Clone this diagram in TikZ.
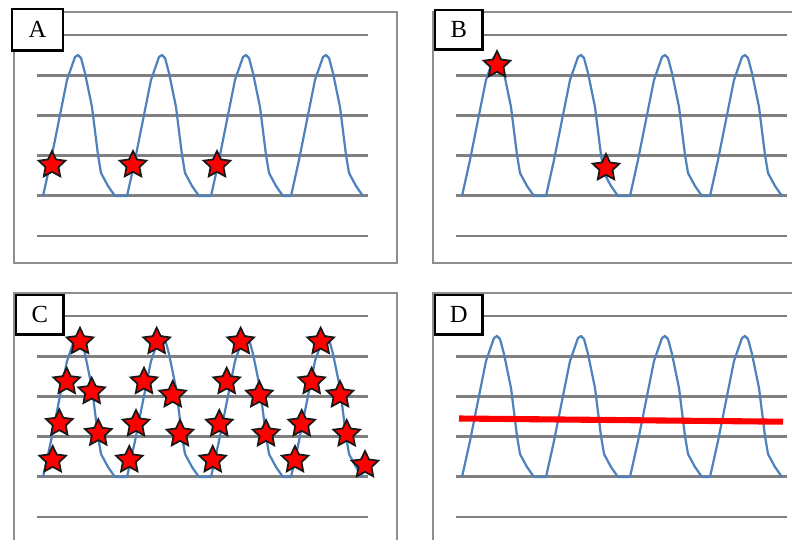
\documentclass[tikz,border=0pt]{standalone}
\usepackage{fontspec}
\setmainfont{Liberation Serif}
\usetikzlibrary{shapes.geometric}
\definecolor{pnGrid}{HTML}{808080}
\definecolor{pnFrame}{HTML}{8E8E8E}
\definecolor{pnWave}{HTML}{4F81BD}
\definecolor{pnHit}{HTML}{FF0000}
\tikzset{
  panelframe/.style={draw=pnFrame, line width=2.2pt},
  gridline/.style={draw=pnGrid, line width=2.3pt},
  wave/.style={draw=pnWave, line width=1.9pt, line join=round},
  hit/.style={
    star, star points=5, star point ratio=2.05, fill=pnHit, draw=black!90,
    line width=1.5pt, inner sep=0pt, minimum size=0.84cm
  },
  tagbox/.style={
    draw=black, fill=white, line width=2pt, inner sep=0pt, anchor=north west,
    minimum width=1.42cm, minimum height=1.18cm, font=\fontsize{21}{24}\selectfont
  },
  meanline/.style={draw=pnHit, line width=5.2pt}
}
\begin{document}
\begin{tikzpicture}[x=0.03cm, y=-0.03cm]
  \useasboundingbox (0,0) rectangle (792,540);
  \clip (0,0) rectangle (792,540);
  % four panels, same sketch shifted
  \foreach \dx/\dy in {0/0, 419/0, 0/281, 419/281} {
    \begin{scope}[shift={(\dx,\dy)}]
      \draw[panelframe] (14,263) -- (14,12) -- (397,12) -- (397,263) -- cycle;
      \foreach \ly in {35,75.5,115.5,155.5,195.5,236}
        \draw[gridline] (37,\ly) -- (368,\ly);
      \draw[wave] (43,196) \foreach \p in {78,162,246,326} {
        -- (\p-35,196) -- (\p-27,160) -- (\p-18,115) -- (\p-11,80) -- (\p-3,57)
        -- (\p,55) -- (\p+3,58) -- (\p+7,73) -- (\p+14,107) -- (\p+20,155)
        -- (\p+23,173) -- (\p+30,186) -- (\p+37,196)
      };
    \end{scope}
  }
  % A
  \node[hit] (a1) at (52,165) {};
  \node[hit] (a2) at (133,165) {};
  \node[hit] (a3) at (217,165) {};
  % B
  \node[hit] (b1) at (497,65) {};
  \node[hit] (b2) at (606,168) {};
  % C
  \foreach \sx/\sy [count=\i] in {80/341.7, 66.7/381.7, 91.7/391.7, 59.3/423.3, 98.3/433.3, 52.7/460,
      156.7/341.7, 144/381.7, 172.7/395, 136/424, 180/434, 129.3/460,
      240.7/341.7, 226.7/381.7, 259.3/395, 219.3/424, 266/434, 212.7/460,
      320.7/341.7, 311.7/381.7, 340/395, 301.7/424, 346.7/434, 295/460, 365/465}
    \node[hit] (c\i) at (\sx,\sy) {};
  % D
  \draw[meanline] (459,418.5) -- (783,421.7);
  % labels
  \node[tagbox, minimum width=1.52cm, minimum height=1.24cm] (tagA) at (11,8) {A};
  \node[tagbox] (tagB) at (434,9) {B};
  \node[tagbox] (tagC) at (15,294) {C};
  \node[tagbox] (tagD) at (434,294) {D};
\end{tikzpicture}
\end{document}
